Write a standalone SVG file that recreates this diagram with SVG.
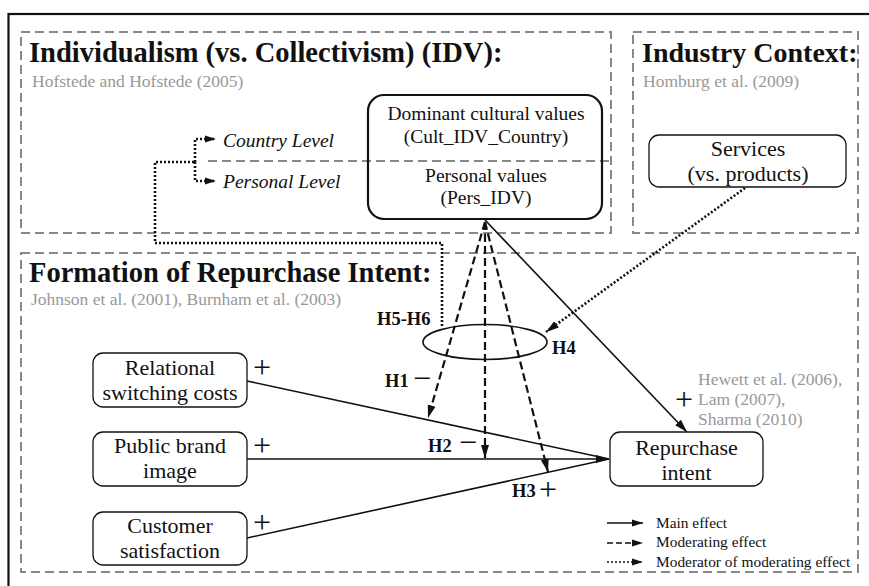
<svg xmlns="http://www.w3.org/2000/svg" width="869" height="586" viewBox="0 0 869 586">
<defs>
<marker id="arr" markerUnits="userSpaceOnUse" markerWidth="14" markerHeight="10" refX="13" refY="4" orient="auto" viewBox="0 0 14 8">
<path d="M0,0 L13,4 L0,8 z" fill="#111"/>
</marker>
<marker id="arrs" markerUnits="userSpaceOnUse" markerWidth="12" markerHeight="9" refX="11" refY="3.5" orient="auto" viewBox="0 0 12 7">
<path d="M0,0 L11,3.5 L0,7 z" fill="#111"/>
</marker>
</defs>
<style>
text{font-family:"Liberation Serif","Times New Roman",serif;fill:#111}
.title{font-size:28.5px;font-weight:bold}
.cite{font-size:17.5px;fill:#999}
.grp{fill:none;stroke:#888;stroke-width:2;stroke-dasharray:9,5}
.box{fill:#fff;stroke:#111;stroke-width:1.3}
.bt{font-size:22px;text-anchor:middle}
.dt{font-size:19.5px;text-anchor:middle}
.lvl{font-size:19.5px;font-style:italic}
.h{font-size:18.5px;font-weight:bold}
.sign{font-size:32px}
.leg{font-size:15.4px}
.main{fill:none;stroke:#111;stroke-width:1.6}
.dash{fill:none;stroke:#111;stroke-width:2.2;stroke-dasharray:8,4}
.dot{fill:none;stroke:#111;stroke-width:2.6;stroke-dasharray:2,2}
</style>
<rect x="0" y="0" width="869" height="586" fill="#fff"/>
<rect x="8.5" y="14" width="870" height="580" fill="none" stroke="#111" stroke-width="2.2"/>

<g id="group-idv">
<rect class="grp" x="21" y="32" width="590" height="201"/>
<text class="title" x="29" y="62">Individualism (vs. Collectivism) (IDV):</text>
<text class="cite" x="32" y="87">Hofstede and Hofstede (2005)</text>
</g>
<g id="group-industry">
<rect class="grp" x="633" y="32" width="225" height="201"/>
<text class="title" x="642" y="62" style="font-size:28px">Industry Context:</text>
<text class="cite" x="643" y="87">Homburg et al. (2009)</text>
</g>
<g id="group-formation">
<rect class="grp" x="21" y="253" width="837" height="319"/>
<text class="title" x="29" y="282">Formation of Repurchase Intent:</text>
<text class="cite" x="31" y="305">Johnson et al. (2001), Burnham et al. (2003)</text>
</g>

<g id="connectors">
<path class="main" d="M247,381 L609,459"/>
<path class="main" d="M247,538 L609,459"/>
<path class="main" d="M247,459 L609,459" marker-end="url(#arr)"/>
<path class="main" d="M485,220 L687,432" stroke-width="2.2" marker-end="url(#arr)"/>
<path class="dash" d="M485,222 L428,418" marker-end="url(#arr)"/>
<path class="dash" d="M485,222 L485,458" marker-end="url(#arr)"/>
<path class="dash" d="M485,222 L548,472" marker-end="url(#arr)"/>
<path class="dot" d="M745,188 L546,332" marker-end="url(#arr)"/>
<path class="dot" d="M442,326 L442,243 L155,243 L155,162 L195,162"/>
<path class="dot" d="M195,162 L195,139 L216,139" marker-end="url(#arrs)"/>
<path class="dot" d="M195,162 L195,181 L216,181" marker-end="url(#arrs)"/>
<line x1="208" y1="161" x2="610" y2="161" stroke="#888" stroke-width="1.8" stroke-dasharray="9,5"/>
</g>

<g id="node-levels">
<text class="lvl" x="223" y="147">Country Level</text>
<text class="lvl" x="223" y="188">Personal Level</text>
</g>

<g id="node-idv">
<rect x="368" y="95" width="234" height="124" rx="16" fill="none" stroke="#111" stroke-width="2.2"/>
<text class="dt" x="486" y="120">Dominant cultural values</text>
<text class="dt" x="486" y="143">(Cult_IDV_Country)</text>
<text class="dt" x="486" y="182">Personal values</text>
<text class="dt" x="486" y="204">(Pers_IDV)</text>
</g>

<g id="node-services">
<rect class="box" x="649" y="135" width="197" height="52" rx="10"/>
<text class="bt" x="748" y="156">Services</text>
<text class="bt" x="748" y="181">(vs. products)</text>
</g>

<g id="node-moderation">
<ellipse cx="485" cy="342" rx="62" ry="17.5" fill="none" stroke="#111" stroke-width="1.6"/>
<text class="h" x="377" y="325">H5-H6</text>
<text class="h" x="552" y="354">H4</text>
</g>

<g id="node-relational">
<rect class="box" x="93" y="353" width="154" height="54" rx="10"/>
<text class="bt" x="170" y="375">Relational</text>
<text class="bt" x="170" y="400">switching costs</text>
<text class="sign" x="253" y="378">+</text>
</g>
<g id="node-brand">
<rect class="box" x="93" y="432" width="154" height="54" rx="10"/>
<text class="bt" x="170" y="453">Public brand</text>
<text class="bt" x="170" y="478">image</text>
<text class="sign" x="253" y="456">+</text>
</g>
<g id="node-satisfaction">
<rect class="box" x="93" y="512" width="154" height="53" rx="10"/>
<text class="bt" x="170" y="533">Customer</text>
<text class="bt" x="170" y="558">satisfaction</text>
<text class="sign" x="253" y="533">+</text>
</g>
<g id="node-repurchase">
<rect class="box" x="610" y="432" width="153" height="54" rx="10"/>
<text class="bt" x="686.5" y="455">Repurchase</text>
<text class="bt" x="686.5" y="480">intent</text>
</g>

<g id="labels">
<text class="h" x="385" y="387">H1</text>
<text class="sign" x="413" y="389">−</text>
<text class="h" x="428" y="452">H2</text>
<text class="sign" x="459" y="453">−</text>
<text class="h" x="512" y="497">H3</text>
<text class="sign" x="539" y="500">+</text>
<text class="sign" x="675" y="410">+</text>
<text class="cite" x="698" y="385">Hewett et al. (2006),</text>
<text class="cite" x="698" y="405">Lam (2007),</text>
<text class="cite" x="698" y="425">Sharma (2010)</text>
</g>

<g id="legend">
<line class="main" x1="607" y1="523" x2="643" y2="523" stroke-width="2.2" marker-end="url(#arrs)"/>
<line class="main" x1="607" y1="543" x2="643" y2="543" stroke-width="2.2" stroke-dasharray="6,3" marker-end="url(#arrs)"/>
<line class="main" x1="607" y1="562" x2="643" y2="562" stroke-width="2.6" stroke-dasharray="2,2" marker-end="url(#arrs)"/>
<text class="leg" x="656" y="528">Main effect</text>
<text class="leg" x="656" y="547">Moderating effect</text>
<text class="leg" x="656" y="567">Moderator of moderating effect</text>
</g>
</svg>
